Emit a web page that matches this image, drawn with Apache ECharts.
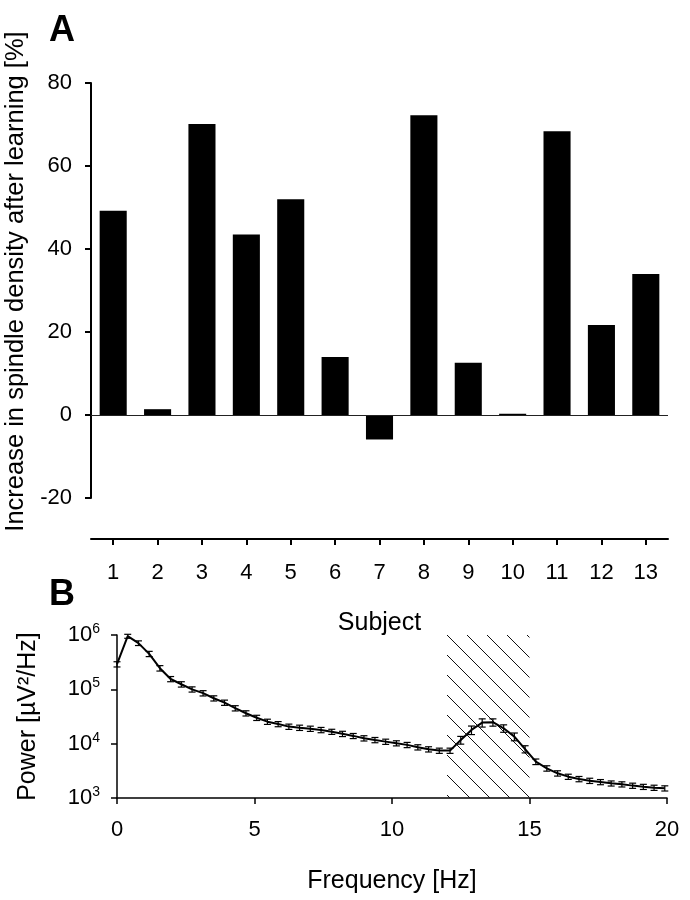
<!DOCTYPE html>
<html>
<head>
<meta charset="utf-8">
<script src="https://cdn.jsdelivr.net/npm/echarts@6/dist/echarts.min.js"></script>
<style>
  html, body { margin: 0; padding: 0; background: #fff; }
  #chart { width: 690px; height: 900px; }
</style>
</head>
<body>
<div id="chart"></div>
<script>
// ---------- Panel A data ----------
const subjects = ['1','2','3','4','5','6','7','8','9','10','11','12','13'];
const spindleIncrease = [49.2, 1.4, 70.1, 43.5, 52.0, 14.0, -5.9, 72.2, 12.6, 0.3, 68.4, 21.7, 34.0];

// ---------- Panel B data ----------
const frequencies = [0, 0.39, 0.78, 1.17, 1.56, 1.95, 2.34, 2.73, 3.13, 3.52, 3.91, 4.30, 4.69, 5.08,
  5.47, 5.86, 6.25, 6.64, 7.03, 7.42, 7.81, 8.20, 8.59, 8.98, 9.38, 9.77, 10.16, 10.55, 10.94,
  11.33, 11.72, 12.11, 12.50, 12.89, 13.28, 13.67, 14.06, 14.45, 14.84, 15.23, 15.63, 16.02,
  16.41, 16.80, 17.19, 17.58, 17.97, 18.36, 18.75, 19.14, 19.53, 19.92];
const power = [2.9e5, 9.5e5, 7.1e5, 4.5e5, 2.45e5, 1.55e5, 1.24e5, 1.0e5, 8.5e4, 6.85e4, 5.7e4,
  4.5e4, 3.63e4, 3.0e4, 2.54e4, 2.3e4, 2.06e4, 1.97e4, 1.89e4, 1.79e4, 1.66e4, 1.52e4, 1.39e4,
  1.26e4, 1.17e4, 1.09e4, 1.02e4, 9.5e3, 8.6e3, 7.9e3, 7.45e3, 7.45e3, 1.17e4, 1.79e4, 2.44e4,
  2.48e4, 1.92e4, 1.35e4, 7.96e3, 4.67e3, 3.52e3, 2.85e3, 2.47e3, 2.24e3, 2.08e3, 1.97e3,
  1.86e3, 1.79e3, 1.69e3, 1.61e3, 1.55e3, 1.51e3];
const powerSem = [3.2e4, 8e4, 7e4, 5e4, 2.8e4, 1.7e4, 1.4e4, 1.1e4, 9.5e3, 7.5e3, 6.3e3, 5e3, 4e3,
  3.3e3, 2.8e3, 2.5e3, 2.3e3, 2.2e3, 2.1e3, 2e3, 1.8e3, 1.7e3, 1.5e3, 1.4e3, 1.3e3, 1.2e3, 1.1e3,
  1.05e3, 950, 870, 820, 820, 1.9e3, 3.2e3, 4.2e3, 3.8e3, 3.0e3, 2.2e3, 1.2e3, 550, 400, 320,
  270, 250, 230, 215, 200, 195, 185, 175, 170, 165];
const spindleBand = [12, 15];
const powerExponentTicks = [3, 4, 5, 6];

const FONT = '"Liberation Sans", Arial, sans-serif';

// hatch pattern for the spindle band
const hatch = document.createElement('canvas');
hatch.width = 20; hatch.height = 20;
(function () {
  const c = hatch.getContext('2d');
  c.strokeStyle = '#111';
  c.lineWidth = 1;
  c.beginPath();
  c.moveTo(12, 0); c.lineTo(32, 20);
  c.moveTo(-8, 0); c.lineTo(12, 20);
  c.stroke();
})();

const lineData = frequencies.map((f, i) => [f, power[i]]);
const errData = frequencies.map((f, i) => [f, power[i] - powerSem[i], power[i] + powerSem[i]]);

const chart = echarts.init(document.getElementById('chart'), null, { renderer: 'canvas' });

const option = {
  animation: false,
  backgroundColor: '#fff',
  textStyle: { fontFamily: FONT, color: '#000' },
  title: [
    { text: 'A', left: 44, top: 8, textStyle: { fontSize: 36, fontWeight: 'bold', color: '#000', fontFamily: FONT } },
    { text: 'B', left: 44, top: 572, textStyle: { fontSize: 36, fontWeight: 'bold', color: '#000', fontFamily: FONT } }
  ],
  grid: [
    { left: 91, right: 22, top: 83, bottom: 402, containLabel: false, outerBoundsMode: 'none' },
    { left: 117, right: 23, top: 635, bottom: 102, containLabel: false, outerBoundsMode: 'none' }
  ],
  xAxis: [
    {
      gridIndex: 0,
      type: 'category',
      data: subjects,
      position: 'bottom',
      offset: 41,
      axisLine: { onZero: false, lineStyle: { color: '#000', width: 2 } },
      axisTick: { show: true, alignWithLabel: true, length: 6, lineStyle: { color: '#000', width: 2 } },
      axisLabel: { color: '#000', fontSize: 22, margin: 23, fontFamily: FONT },
      name: 'Subject',
      nameLocation: 'middle',
      nameGap: 72,
      nameTextStyle: { color: '#000', fontSize: 25, fontFamily: FONT },
      splitLine: { show: false }
    },
    {
      gridIndex: 1,
      type: 'value',
      min: 0, max: 20, interval: 5,
      axisLine: { onZero: false, lineStyle: { color: '#000', width: 1.5 } },
      axisTick: { show: true, length: 6, lineStyle: { color: '#000', width: 1.5 } },
      axisLabel: { color: '#000', fontSize: 22, margin: 21, fontFamily: FONT },
      name: 'Frequency [Hz]',
      nameLocation: 'middle',
      nameGap: 71,
      nameTextStyle: { color: '#000', fontSize: 25, fontFamily: FONT },
      splitLine: { show: false }
    }
  ],
  yAxis: [
    {
      gridIndex: 0,
      type: 'value',
      min: -20, max: 80, interval: 20,
      axisLine: { show: true, lineStyle: { color: '#000', width: 2 } },
      axisTick: { show: true, length: 6, lineStyle: { color: '#000', width: 2 } },
      axisLabel: { color: '#000', fontSize: 22, margin: 19, fontFamily: FONT },
      name: 'Increase in spindle density after learning [%]',
      nameLocation: 'middle',
      nameGap: 59,
      nameTextStyle: { color: '#000', fontSize: 25.5, fontFamily: FONT, padding: [0, 0, 0, 18] },
      splitLine: { show: false }
    },
    {
      gridIndex: 1,
      type: 'log',
      logBase: 10,
      min: Math.pow(10, powerExponentTicks[0]),
      max: Math.pow(10, powerExponentTicks[powerExponentTicks.length - 1]),
      axisLine: { show: true, lineStyle: { color: '#000', width: 1.5 } },
      axisTick: { show: true, length: 6, lineStyle: { color: '#000', width: 1.5 } },
      axisLabel: {
        color: '#000', fontSize: 22, margin: 17, fontFamily: FONT,
        formatter: v => '10{s|' + Math.round(Math.log10(v)) + '}',
        rich: { s: { fontSize: 14, fontFamily: FONT, color: '#000', padding: [0, 0, 12, 0] } }
      },
      name: 'Power [µV²/Hz]',
      nameLocation: 'middle',
      nameGap: 76,
      nameTextStyle: { color: '#000', fontSize: 25, fontFamily: FONT },
      splitLine: { show: false }
    }
  ],
  series: [
    {
      type: 'bar',
      xAxisIndex: 0, yAxisIndex: 0,
      data: spindleIncrease,
      barWidth: '61%',
      itemStyle: { color: '#000' },
      markLine: {
        silent: true,
        symbol: 'none',
        label: { show: false },
        lineStyle: { color: '#222', width: 1.2, type: 'solid' },
        data: [{ yAxis: 0 }]
      }
    },
    {
      type: 'line',
      xAxisIndex: 1, yAxisIndex: 1,
      data: lineData,
      showSymbol: false,
      symbol: 'none',
      lineStyle: { color: '#000', width: 2 },
      z: 3,
      markArea: {
        silent: true,
        itemStyle: { color: { image: hatch, repeat: 'repeat' } },
        data: [[{ xAxis: spindleBand[0] }, { xAxis: spindleBand[1] }]]
      }
    },
    {
      type: 'custom',
      xAxisIndex: 1, yAxisIndex: 1,
      data: errData,
      z: 4,
      renderItem: function (params, api) {
        const f = api.value(0);
        const lo = api.coord([f, api.value(1)]);
        const hi = api.coord([f, api.value(2)]);
        const w = 3.5;
        const style = { stroke: '#000', lineWidth: 1.2 };
        return {
          type: 'group',
          children: [
            { type: 'line', shape: { x1: lo[0], y1: lo[1], x2: hi[0], y2: hi[1] }, style: style },
            { type: 'line', shape: { x1: lo[0] - w, y1: lo[1], x2: lo[0] + w, y2: lo[1] }, style: style },
            { type: 'line', shape: { x1: hi[0] - w, y1: hi[1], x2: hi[0] + w, y2: hi[1] }, style: style }
          ]
        };
      }
    }
  ]
};

chart.setOption(option);
</script>
</body>
</html>
